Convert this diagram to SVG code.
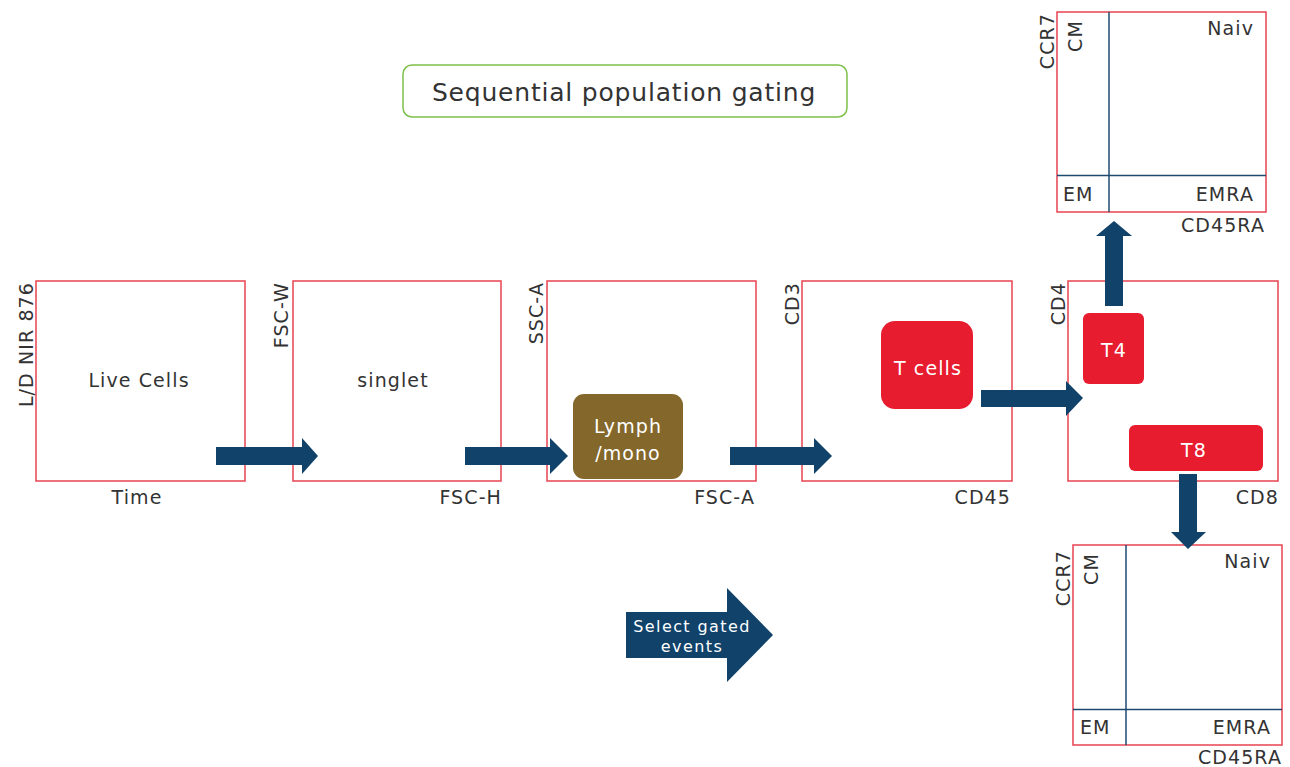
<svg xmlns="http://www.w3.org/2000/svg" width="1290" height="767" viewBox="0 0 1290 767">
<style>
.plot{fill:#fff;stroke:#e8434f;stroke-width:1.5}
.q{stroke:#1f4a70;stroke-width:1.5;fill:none}
.t{font-family:"DejaVu Sans","Noto Sans",sans-serif;font-size:19px;letter-spacing:1.1px;fill:#333}
.w{font-family:"DejaVu Sans","Noto Sans",sans-serif;font-size:19px;letter-spacing:1.1px;fill:#fff}
.arr{fill:#10426a}
.mid{text-anchor:middle}
.end{text-anchor:end}
</style>
<rect width="1290" height="767" fill="#fff"/>
<g id="title">
<rect x="403" y="65" width="444" height="52" rx="9" fill="#fff" stroke="#7cc04a" stroke-width="1.5"/>
<text x="624" y="101" class="t mid" style="font-size:25px;letter-spacing:0.8px">Sequential population gating</text>
</g>
<g id="plot-live">
<rect class="plot" x="36" y="281" width="209" height="200"/>
<text class="t mid" x="139" y="387">Live Cells</text>
<text class="t mid" x="137" y="504">Time</text>
<text class="t end" transform="translate(33,282) rotate(-90)">L/D NIR 876</text>
</g>
<g id="plot-singlet">
<rect class="plot" x="293" y="281" width="208" height="200"/>
<text class="t mid" x="393" y="387">singlet</text>
<text class="t end" x="502" y="504">FSC-H</text>
<text class="t end" transform="translate(288,282) rotate(-90)">FSC-W</text>
</g>
<g id="plot-lymph">
<rect class="plot" x="547" y="281" width="209" height="200"/>
<text class="t end" x="755" y="504">FSC-A</text>
<text class="t end" transform="translate(543,282) rotate(-90)">SSC-A</text>
</g>
<g id="gate-lymph">
<rect x="573" y="394" width="110" height="85" rx="11" fill="#83672b"/>
<text class="w mid" x="628" y="433">Lymph</text>
<text class="w mid" x="628" y="460">/mono</text>
</g>
<g id="plot-tcells">
<rect class="plot" x="802" y="281" width="210" height="200"/>
<text class="t end" x="1011" y="504">CD45</text>
<text class="t end" transform="translate(799,282) rotate(-90)">CD3</text>
</g>
<g id="gate-tcells">
<rect x="881" y="321" width="92" height="88" rx="14" fill="#e81c2f"/>
<text class="w mid" x="928" y="375">T cells</text>
</g>
<g id="plot-t4t8">
<rect class="plot" x="1068" y="281" width="210" height="200"/>
<text class="t end" x="1279" y="504">CD8</text>
<text class="t end" transform="translate(1065,282) rotate(-90)">CD4</text>
</g>
<g id="gate-t4">
<rect x="1083" y="313" width="61" height="71" rx="6" fill="#e81c2f"/>
<text class="w mid" x="1114" y="357">T4</text>
</g>
<g id="gate-t8">
<rect x="1129" y="425" width="134" height="46" rx="6" fill="#e81c2f"/>
<text class="w mid" x="1194" y="457">T8</text>
</g>
<g id="plot-t4-subsets">
<rect class="plot" x="1057" y="12" width="209" height="200"/>
<line class="q" x1="1109" y1="12" x2="1109" y2="212"/>
<line class="q" x1="1057" y1="175.5" x2="1266" y2="175.5"/>
<text class="t end" x="1254" y="35">Naiv</text>
<text class="t" x="1063" y="201">EM</text>
<text class="t end" x="1254" y="201">EMRA</text>
<text class="t end" x="1265" y="232">CD45RA</text>
<text class="t end" transform="translate(1054,13) rotate(-90)">CCR7</text>
<text class="t end" transform="translate(1082,20) rotate(-90)">CM</text>
</g>
<g id="plot-t8-subsets">
<rect class="plot" x="1073" y="545" width="209" height="200"/>
<line class="q" x1="1126" y1="545" x2="1126" y2="745"/>
<line class="q" x1="1073" y1="709.5" x2="1282" y2="709.5"/>
<text class="t end" x="1271" y="568">Naiv</text>
<text class="t" x="1080" y="734">EM</text>
<text class="t end" x="1271" y="734">EMRA</text>
<text class="t end" x="1282" y="764">CD45RA</text>
<text class="t end" transform="translate(1070,550) rotate(-90)">CCR7</text>
<text class="t end" transform="translate(1098,553) rotate(-90)">CM</text>
</g>
<g id="connectors">
<polygon class="arr" points="216,447 302,447 302,438 318,456 302,474 302,465 216,465"/>
<polygon class="arr" points="465,447 550,447 550,438 568,456 550,474 550,465 465,465"/>
<polygon class="arr" points="730,447 814,447 814,438 832,456 814,474 814,465 730,465"/>
<polygon class="arr" points="981,390 1066,390 1066,381 1083,398 1066,416 1066,407 981,407"/>
<polygon class="arr" points="1105,306 1105,236 1096,236 1114,221 1132,236 1123,236 1123,306"/>
<polygon class="arr" points="1179,474 1197,474 1197,532 1206,532 1188,549 1171,532 1179,532"/>
</g>
<g id="legend-arrow">
<polygon class="arr" points="626,612 727,612 727,588 773,635 727,682 727,658 626,658"/>
<text class="w mid" x="692" y="632" style="font-size:16px;letter-spacing:1.4px">Select gated</text>
<text class="w mid" x="692" y="652" style="font-size:16px;letter-spacing:1.4px">events</text>
</g>
</svg>
